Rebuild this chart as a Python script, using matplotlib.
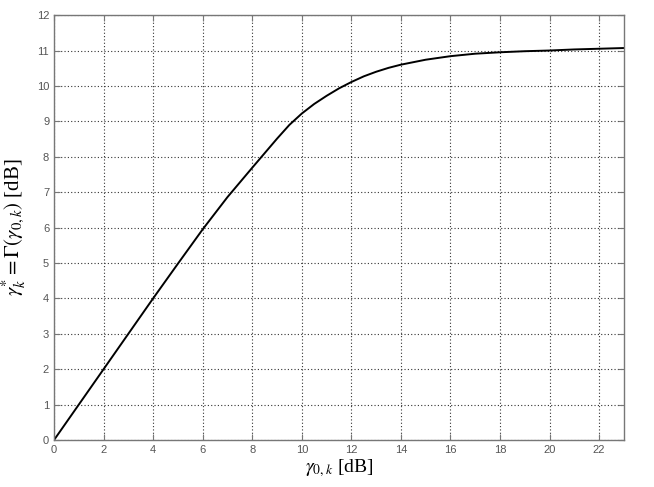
import matplotlib
matplotlib.use("Agg")
import matplotlib.pyplot as plt

gamma0_db = [0, 2, 4, 5, 6, 7, 8, 8.5, 9, 9.5, 10, 10.5, 11, 11.5, 12, 12.5, 13,
             13.5, 14, 15, 16, 17, 18, 19, 20, 21, 22, 23]
gamma_star_db = [0, 2, 4, 4.98, 5.95, 6.86, 7.69, 8.10, 8.51, 8.90, 9.22, 9.49,
                 9.72, 9.93, 10.11, 10.27, 10.40, 10.51, 10.60, 10.74, 10.84,
                 10.91, 10.95, 10.98, 11.00, 11.03, 11.05, 11.07]
xticks = list(range(0, 23, 2))
yticks = list(range(0, 13))

plt.rcParams['mathtext.fontset'] = 'stix'

fig = plt.figure(figsize=(6.54, 4.87), dpi=100)
ax = fig.add_axes([0.0826, 0.0965, 0.954 - 0.0826, 0.969 - 0.0965])

ax.plot(gamma0_db, gamma_star_db, color='black', lw=1.4, solid_joinstyle='round')
ax.set_xlim(0, 23)
ax.set_ylim(0, 12)
ax.set_xticks(xticks)
ax.set_yticks(yticks)
ax.grid(True, color='#333333', linestyle=(0, (1, 2)), linewidth=0.8)
ax.tick_params(direction='in', length=4, colors='#777777', labelcolor='#555555',
               labelsize=8, top=True, right=True)
for lab in ax.get_xticklabels() + ax.get_yticklabels():
    lab.set_family('Liberation Sans')
for s in ax.spines.values():
    s.set_color('#777777')
    s.set_linewidth(1.0)

ax.set_xlabel(r'$\gamma_{0,k}$ [dB]', fontsize=14, family='Liberation Serif', labelpad=2)
ax.set_ylabel(r'$\gamma_k^{*}=\Gamma(\gamma_{0,k})$ [dB]', fontsize=15,
              family='Liberation Serif', labelpad=6)

fig.savefig('out.png', dpi=100)
